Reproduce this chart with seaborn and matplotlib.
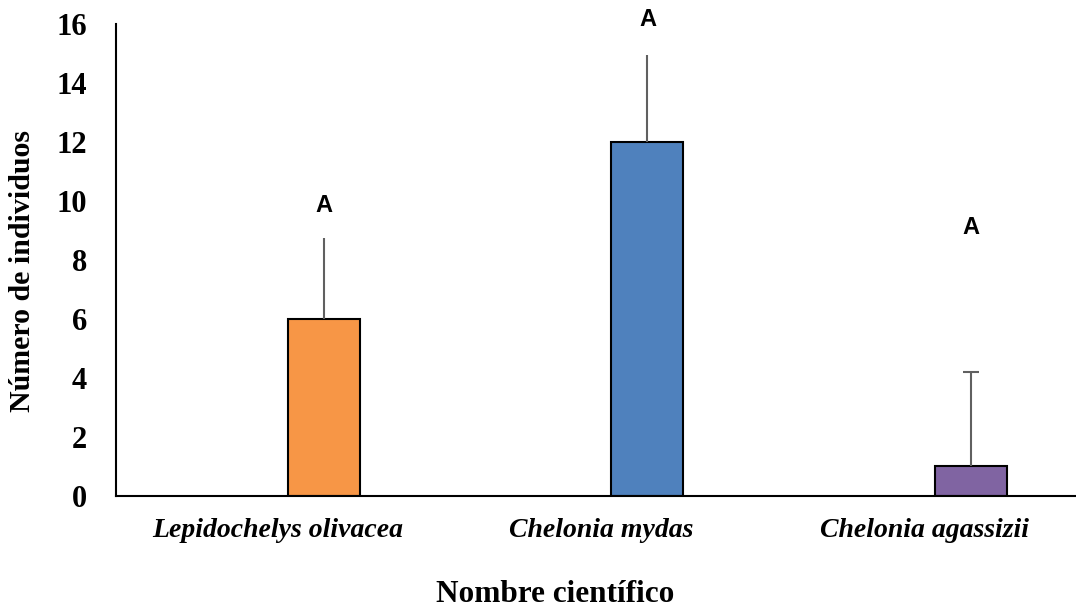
import matplotlib.pyplot as plt
import seaborn as sns
import pandas as pd

plt.switch_backend('agg')

# Data
species = ['Lepidochelys olivacea', 'Chelonia mydas', 'Chelonia agassizii']
counts = [6, 12, 1]
err_up = [2.75, 2.95, 3.2]
letters = ['A', 'A', 'A']
letter_y = [9.85, 16.15, 9.1]
colors = ['#F79646', '#4F81BD', '#8064A2']
has_cap = [False, False, True]

sns.set_theme(style='white')
plt.rcParams['font.family'] = ['Liberation Serif', 'DejaVu Serif']
for key in ['text.color', 'axes.labelcolor', 'xtick.color', 'ytick.color']:
    plt.rcParams[key] = 'black'

df = pd.DataFrame({'species': species, 'count': counts})

fig = plt.figure(figsize=(10.76, 6.13), dpi=100)
ax = fig.add_axes([0.1078, 0.1909, 0.8922, 0.7699])

sns.barplot(data=df, x='species', y='count', hue='species', palette=colors,
            saturation=1, width=0.223, edgecolor='black', linewidth=1.5,
            legend=False, ax=ax)

# One-sided (upward) error bars, cap only where the original shows one
for i, (c, e) in enumerate(zip(counts, err_up)):
    ax.errorbar(i, c, yerr=[[0], [e]], fmt='none', ecolor='#606060',
                elinewidth=1.5, capsize=0, zorder=1)
    if has_cap[i]:
        ax.plot([i], [c + e], marker='_', markersize=12, markeredgewidth=1.5,
                color='#606060', zorder=1)

# Significance letters
for i, (t, y) in enumerate(zip(letters, letter_y)):
    ax.text(i, y, t, ha='center', va='center', fontsize=17, fontweight='bold',
            family=['Liberation Sans', 'DejaVu Sans'])

ax.set_xlim(-0.643, 2.325)
ax.set_ylim(0, 16)
ax.set_yticks(range(0, 17, 2))
# category labels sit left of the bars, as in the original Excel layout
ax.set_xticks([i - 0.142 for i in range(len(species))], labels=species)
ax.tick_params(axis='y', length=0, pad=21, labelsize=22)
ax.tick_params(axis='x', length=0, pad=16, labelsize=20)
for lbl in ax.get_yticklabels():
    lbl.set_fontweight('bold')
for lbl in ax.get_xticklabels():
    lbl.set_fontweight('bold')
    lbl.set_fontstyle('italic')

ax.set_ylabel('Número de individuos', fontsize=21.5, fontweight='bold', va='center')
ax.yaxis.set_label_coords(-0.097, 0.477)
ax.set_xlabel('Nombre científico', fontsize=22.5, fontweight='bold', va='center')
ax.xaxis.set_label_coords(0.458, -0.209)

sns.despine(ax=ax)
for side in ['left', 'bottom']:
    ax.spines[side].set_color('black')
    ax.spines[side].set_linewidth(1.5)

fig.savefig('out.png', dpi=100)
plt.close(fig)
